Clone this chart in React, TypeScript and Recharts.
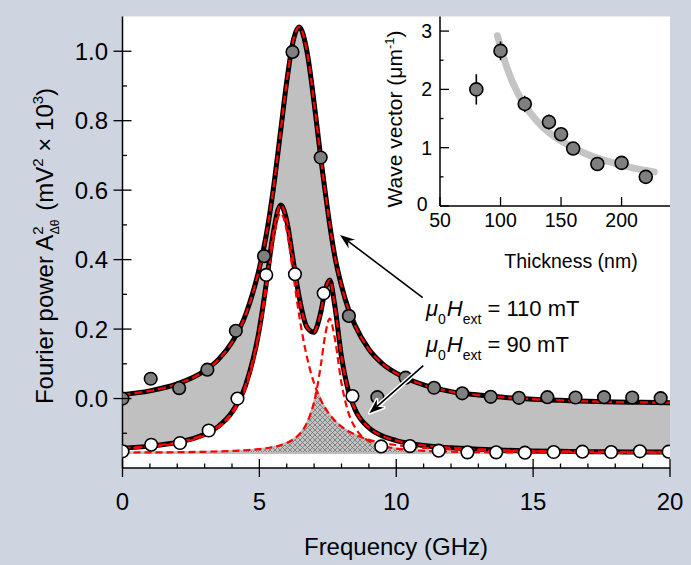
import React from 'react';
import { ComposedChart, Line, Area, Scatter, XAxis, YAxis, CartesianGrid, ErrorBar } from 'recharts';

// ---------- main panel data ----------
const FREQ_GRID = [0, 1, 2, 3, 3.5, 4, 4.5, 5, 5.25, 5.5, 5.78, 6, 6.25, 6.45, 6.75, 7, 7.09, 7.25, 7.4, 7.57, 7.75, 8, 8.25, 8.5, 9, 9.5, 10, 11, 12, 13, 14, 15, 16, 17, 18, 19, 20];
const FIT_110 = [0.011, 0.022, 0.042, 0.080, 0.112, 0.162, 0.242, 0.376, 0.470, 0.598, 0.773, 0.913, 1.035, 1.070, 0.994, 0.851, 0.793, 0.688, 0.598, 0.500, 0.412, 0.325, 0.258, 0.210, 0.142, 0.100, 0.073, 0.039, 0.020, 0.010, 0.003, -0.002, -0.005, -0.008, -0.010, -0.011, -0.012];
const FIT_90 = [-0.143, -0.137, -0.126, -0.103, -0.080, -0.039, 0.039, 0.200, 0.330, 0.473, 0.557, 0.512, 0.390, 0.294, 0.204, 0.191, 0.204, 0.251, 0.311, 0.341, 0.270, 0.120, 0.023, -0.032, -0.084, -0.108, -0.121, -0.135, -0.142, -0.146, -0.149, -0.151, -0.152, -0.153, -0.1535, -0.154, -0.154];
const COMP_1 = [-0.1446, -0.139, -0.1287, -0.1064, -0.0844, -0.0454, 0.0305, 0.189, 0.316, 0.455, 0.534, 0.483, 0.350, 0.241, 0.115, 0.044, 0.024, -0.005, -0.027, -0.0465, -0.063, -0.081, -0.094, -0.104, -0.119, -0.128, -0.134, -0.142, -0.146, -0.149, -0.151, -0.152, -0.153, -0.1537, -0.1542, -0.1546, -0.155];
const COMP_2 = [-0.1557, -0.155, -0.1545, -0.1533, -0.1524, -0.151, -0.149, -0.1456, -0.1431, -0.1397, -0.1343, -0.128, -0.117, -0.1038, -0.068, -0.0095, 0.023, 0.099, 0.181, 0.230, 0.176, 0.044, -0.040, -0.084, -0.1225, -0.137, -0.144, -0.1505, -0.153, -0.1544, -0.155, -0.1556, -0.1559, -0.1561, -0.1563, -0.1564, -0.1565];
const BASELINE_90 = -0.157;

const GRAY_F = [0, 1.03, 2.07, 3.1, 4.14, 5.17, 6.21, 7.24, 8.27, 9.31, 10.34, 11.38, 12.41, 13.45, 14.48, 15.52, 16.55, 17.59, 18.62, 19.66];
const GRAY_P = [0.0, 0.057, 0.030, 0.083, 0.195, 0.41, 0.998, 0.694, 0.238, 0.004, 0.060, 0.031, 0.015, 0.005, 0.002, 0.004, 0.003, 0.004, 0.003, 0.001];
const WHITE_F = [0, 1.05, 2.1, 3.15, 4.2, 5.25, 6.3, 7.35, 8.4, 9.45, 10.5, 11.55, 12.6, 13.65, 14.7, 15.75, 16.8, 17.85, 18.9, 19.95];
const WHITE_P = [-0.152, -0.133, -0.128, -0.092, 0.0, 0.356, 0.358, 0.303, 0.007, -0.138, -0.137, -0.150, -0.155, -0.155, -0.156, -0.154, -0.153, -0.154, -0.152, -0.153];

const X_TICKS = [0, 1, 2, 3, 4, 5, 6, 7, 8, 9, 10, 11, 12, 13, 14, 15, 16, 17, 18, 19, 20];
const Y_TICKS = [-0.2, -0.1, 0, 0.1, 0.2, 0.3, 0.4, 0.5, 0.6, 0.7, 0.8, 0.9, 1.0, 1.1];
const Y_RIGHT_TICKS = [-0.153, -0.053, 0.047, 0.147, 0.247, 0.347, 0.447, 0.547, 0.647, 0.747, 0.847, 0.947, 1.047];

// ---------- inset data ----------
const THICKNESS = [80, 100, 120, 140, 150, 160, 180, 200, 220];
const WAVE_VECTOR = [2.0, 2.66, 1.75, 1.44, 1.23, 0.985, 0.72, 0.74, 0.50];
const WAVE_ERR = [0.26, 0.16, 0.14, 0.13, 0.1, 0.1, 0.08, 0.08, 0.08];
const FIT_T = [97.5, 100, 105, 110, 120, 130, 140, 150, 160, 170, 180, 190, 200, 210, 220, 227];
const FIT_K = [2.92, 2.73, 2.39, 2.12, 1.73, 1.46, 1.26, 1.12, 1.0, 0.90, 0.82, 0.76, 0.70, 0.65, 0.61, 0.585];
const INSET_X_TICKS = [50, 100, 150, 200];
const INSET_Y_TICKS = [0, 0.5, 1, 1.5, 2, 2.5, 3];

const FONT = '"Liberation Sans", Arial, Helvetica, sans-serif';
const BG = '#ced5e0';

const curveRows = FREQ_GRID.map((x, i) => ({
  x,
  u: FIT_110[i],
  l: FIT_90[i],
  c1: COMP_1[i],
  c2: COMP_2[i],
  band: [FIT_90[i], FIT_110[i]],
  hatch: [BASELINE_90, Math.min(COMP_1[i], COMP_2[i])],
}));
const grayPts = GRAY_F.map((x, i) => ({ x, y: GRAY_P[i] }));
const whitePts = WHITE_F.map((x, i) => ({ x, y: WHITE_P[i] }));
const insetPts = THICKNESS.map((t, i) => ({ t, k: WAVE_VECTOR[i], err: WAVE_ERR[i] }));
const insetFit = FIT_T.map((t, i) => ({ t, k: FIT_K[i] }));

// ---------- tick renderers ----------
const BottomTick = (props: any) => {
  const { x, y, payload } = props;
  const v = payload.value;
  const major = v % 5 === 0;
  return (
    <g>
      <line x1={x} x2={x} y1={major ? y - 9 : y - 4.5} y2={major ? y + 9 : y} stroke="#000" strokeWidth={1.3} />
      {major && (
        <text x={x} y={y + 42} textAnchor="middle" fontSize={24} fontFamily={FONT} fill="#000">{v}</text>
      )}
    </g>
  );
};

const LeftTick = (props: any) => {
  const { x, y, payload } = props;
  const idx = Math.round(payload.value * 10);
  if (idx <= -2 || idx >= 11) return <g />;
  const major = idx >= 0 && idx % 2 === 0;
  return (
    <g>
      <line x1={major ? x - 9 : x} x2={major ? x + 9 : x + 4.5} y1={y} y2={y} stroke="#000" strokeWidth={1.3} />
      {major && (
        <text x={x - 14.5} y={y + 8.5} textAnchor="end" fontSize={24} fontFamily={FONT} fill="#000">{(idx / 10).toFixed(1)}</text>
      )}
    </g>
  );
};

const TopTick = (props: any) => {
  const { x, y } = props;
  return <line x1={x} x2={x} y1={y - 2.5} y2={y} stroke="#000" strokeWidth={1.2} />;
};

const RightTick = (props: any) => {
  const { x, y } = props;
  return <line x1={x - 4} x2={x} y1={y} y2={y} stroke="#000" strokeWidth={1.2} />;
};

const InsetXTick = (props: any) => {
  const { x, y, payload } = props;
  return (
    <g>
      <line x1={x} x2={x} y1={y - 9} y2={y} stroke="#000" strokeWidth={1.3} />
      <text x={x} y={y + 21} textAnchor="middle" fontSize={19.5} fontFamily={FONT} fill="#000">{payload.value}</text>
    </g>
  );
};

const InsetYTick = (props: any) => {
  const { x, y, payload } = props;
  const v = payload.value;
  const major = Number.isInteger(v);
  const isZero = v === 0;
  return (
    <g>
      <line x1={x} x2={major ? x + 9 : x + 3.5} y1={y} y2={y} stroke="#000" strokeWidth={1.3} />
      {major && (
        <text x={isZero ? x - 12.5 : x - 8} y={isZero ? y + 5 : y + 7} textAnchor="end" fontSize={19.5} fontFamily={FONT} fill="#000">{v}</text>
      )}
    </g>
  );
};

const grayDot = (p: any) => (
  <circle cx={p.cx} cy={p.cy} r={6.3} fill="#7f7f7f" stroke="#000" strokeWidth={1.6} />
);
const whiteDot = (p: any) => (
  <circle cx={p.cx} cy={p.cy} r={6.3} fill="#ffffff" stroke="#000" strokeWidth={1.6} />
);
const insetDot = (p: any) => (
  <circle cx={p.cx} cy={p.cy} r={6.5} fill="#7f7f7f" stroke="#000" strokeWidth={1.6} />
);

const Arrow = ({ x1, y1, x2, y2 }: { x1: number; y1: number; x2: number; y2: number }) => {
  const dx = x2 - x1;
  const dy = y2 - y1;
  const len = Math.hypot(dx, dy);
  const ux = dx / len;
  const uy = dy / len;
  const nx = -uy;
  const ny = ux;
  const L = 15;
  const W = 5.5;
  const N = 10;
  const bx = x2 - ux * L;
  const by = y2 - uy * L;
  const mx = x2 - ux * N;
  const my = y2 - uy * N;
  const pts = `${x2},${y2} ${bx + nx * W},${by + ny * W} ${mx},${my} ${bx - nx * W},${by - ny * W}`;
  return (
    <g>
      <line x1={x1} y1={y1} x2={mx} y2={my} stroke="#fff" strokeWidth={4.5} />
      <polygon points={pts} fill="#fff" stroke="#fff" strokeWidth={3} strokeLinejoin="round" />
      <line x1={x1} y1={y1} x2={mx} y2={my} stroke="#000" strokeWidth={1.6} />
      <polygon points={pts} fill="#000" />
    </g>
  );
};

const FieldLabel = ({ x, y, value }: { x: number; y: number; value: string }) => (
  <text x={x} y={y} fontSize={22} fontFamily={FONT} fill="#000">
    <tspan fontStyle="italic">μ</tspan>
    <tspan fontSize={14} dy={8}>0</tspan>
    <tspan fontStyle="italic" dy={-8} dx={1}>H</tspan>
    <tspan fontSize={14} dy={8}>ext</tspan>
    <tspan dy={-8}>{` = ${value}`}</tspan>
  </text>
);

export default function App() {
  return (
    <div style={{ position: 'absolute', left: 0, top: 0, width: 691, height: 565, background: BG, overflow: 'hidden' }}>
      <div style={{ position: 'absolute', left: 0, top: 0 }}>
        <ComposedChart
          width={691}
          height={565}
          data={curveRows}
          margin={{ top: 16.5, right: 21, bottom: 37, left: 22.5 }}
        >
          <defs>
            <pattern id="xhatch" width="5" height="5" patternUnits="userSpaceOnUse">
              <rect width="5" height="5" fill="#c2c2c2" />
              <path d="M0,0 L5,5 M5,0 L0,5" stroke="#7a7a7a" strokeWidth="0.9" />
            </pattern>
          </defs>
          <CartesianGrid horizontal={false} vertical={false} fill="#ffffff" />
          <XAxis
            dataKey="x"
            type="number"
            domain={[0, 20]}
            ticks={X_TICKS}
            interval={0}
            allowDataOverflow
            height={60}
            tickSize={0}
            tickMargin={0}
            tickLine={false}
            axisLine={{ stroke: '#000', strokeWidth: 1.5 }}
            tick={BottomTick}
          />
          <XAxis
            xAxisId="top"
            orientation="top"
            dataKey="x"
            type="number"
            domain={[0, 20]}
            ticks={X_TICKS}
            interval={0}
            allowDataOverflow
            height={0}
            tickSize={0}
            tickMargin={0}
            tickLine={false}
            axisLine={{ stroke: '#000', strokeWidth: 1.5 }}
            tick={TopTick}
          />
          <YAxis
            type="number"
            domain={[-0.2, 1.1]}
            ticks={Y_TICKS}
            interval={0}
            allowDataOverflow
            width={100}
            tickSize={0}
            tickMargin={0}
            tickLine={false}
            axisLine={{ stroke: '#000', strokeWidth: 1.5 }}
            tick={LeftTick}
          />
          <YAxis
            yAxisId="right"
            orientation="right"
            type="number"
            domain={[-0.2, 1.1]}
            ticks={Y_RIGHT_TICKS}
            interval={0}
            allowDataOverflow
            width={0}
            tickSize={0}
            tickMargin={0}
            tickLine={false}
            axisLine={{ stroke: '#000', strokeWidth: 1.5 }}
            tick={RightTick}
          />
          <Area dataKey="band" type="monotone" fill="#c0c0c0" fillOpacity={1} stroke="none" isAnimationActive={false} />
          <Area dataKey="hatch" type="monotone" fill="url(#xhatch)" fillOpacity={1} stroke="#bdbdbd" strokeWidth={2} isAnimationActive={false} />
          <Line dataKey="u" type="monotone" stroke="#000" strokeWidth={5} dot={false} isAnimationActive={false} />
          <Line dataKey="l" type="monotone" stroke="#000" strokeWidth={5} dot={false} isAnimationActive={false} />
          <Line dataKey="c1" type="monotone" stroke="#ff0000" strokeWidth={2.2} strokeDasharray="7 4" dot={false} isAnimationActive={false} />
          <Line dataKey="c2" type="monotone" stroke="#ff0000" strokeWidth={2.2} strokeDasharray="7 4" dot={false} isAnimationActive={false} />
          <Line dataKey="u" type="monotone" stroke="#ff0000" strokeWidth={2.3} strokeDasharray="8 4" dot={false} isAnimationActive={false} />
          <Line dataKey="l" type="monotone" stroke="#ff0000" strokeWidth={2.3} strokeDasharray="8 4" dot={false} isAnimationActive={false} />
          <Line xAxisId="top" yAxisId="right" dataKey="u" stroke="none" dot={false} isAnimationActive={false} />
          <Scatter data={grayPts} dataKey="y" shape={grayDot} isAnimationActive={false} />
          <Scatter data={whitePts} dataKey="y" shape={whiteDot} isAnimationActive={false} />
        </ComposedChart>
      </div>

      <div style={{ position: 'absolute', left: 340, top: 0 }}>
        <ComposedChart width={345} height={290} margin={{ top: 16.5, right: 15, bottom: 24, left: 40 }}>
          <XAxis
            dataKey="t"
            type="number"
            domain={[50, 240]}
            ticks={INSET_X_TICKS}
            interval={0}
            allowDataOverflow
            height={60}
            tickSize={0}
            tickMargin={0}
            tickLine={false}
            axisLine={{ stroke: '#000', strokeWidth: 1.5 }}
            tick={InsetXTick}
          />
          <YAxis
            type="number"
            domain={[0, 3.25]}
            ticks={INSET_Y_TICKS}
            interval={0}
            allowDataOverflow
            width={60}
            tickSize={0}
            tickMargin={0}
            tickLine={false}
            axisLine={{ stroke: '#000', strokeWidth: 1.5 }}
            tick={InsetYTick}
          />
          <Line data={insetFit} dataKey="k" type="monotone" stroke="#c4c4c4" strokeWidth={7} strokeLinecap="round" dot={false} isAnimationActive={false} />
          <Scatter data={insetPts} dataKey="k" shape={insetDot} isAnimationActive={false}>
            <ErrorBar dataKey="err" direction="y" width={0} stroke="#000" strokeWidth={1.6} />
          </Scatter>
        </ComposedChart>
      </div>

      <svg width={691} height={565} style={{ position: 'absolute', left: 0, top: 0, pointerEvents: 'none' }}>
        <text x={396} y={555} textAnchor="middle" fontSize={24} fontFamily={FONT} fill="#000">Frequency (GHz)</text>
        <text x={52.5} y={246} transform="rotate(-90 52.5 246)" textAnchor="middle" fontSize={24} fontFamily={FONT} fill="#000">
          Fourier power A
          <tspan fontSize={15} dy={-10}>2</tspan>
          <tspan fontSize={12} dx={-8} dy={16}>Δθ</tspan>
          <tspan dy={-6} dx={9}>(mV</tspan>
          <tspan fontSize={15} dy={-10}>2</tspan>
          <tspan dy={10}> × 10</tspan>
          <tspan fontSize={15} dy={-10}>3</tspan>
          <tspan dy={10}>)</tspan>
        </text>
        <text x={571} y={268} textAnchor="middle" fontSize={19.5} fontFamily={FONT} fill="#000">Thickness (nm)</text>
        <text x={401.5} y={119} transform="rotate(-90 401.5 119)" textAnchor="middle" fontSize={21} fontFamily={FONT} fill="#000">
          Wave vector (μm
          <tspan fontSize={13} dy={-8}>-1</tspan>
          <tspan dy={8}>)</tspan>
        </text>
        <Arrow x1={422.7} y1={297.7} x2={340} y2={235} />
        <Arrow x1={423.3} y1={365.7} x2={369.3} y2={413.3} />
        <FieldLabel x={426} y={316} value="110 mT" />
        <FieldLabel x={426} y={351.7} value="90 mT" />
      </svg>
    </div>
  );
}
